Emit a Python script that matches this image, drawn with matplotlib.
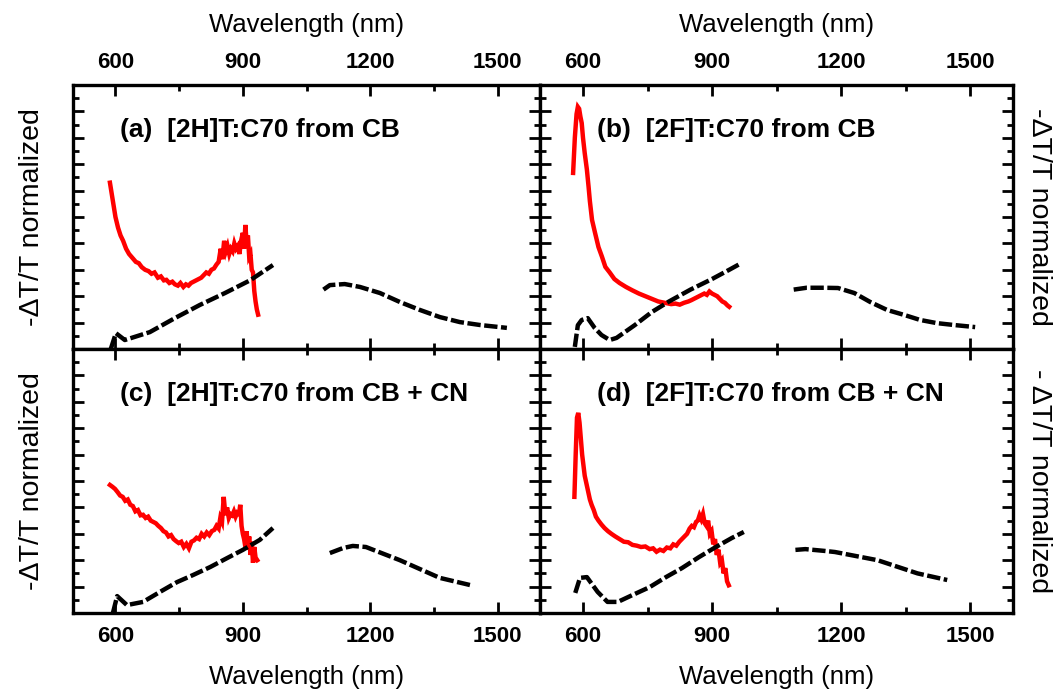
import matplotlib
matplotlib.use("Agg")
import matplotlib.pyplot as plt
from matplotlib.ticker import MultipleLocator

plt.rcParams['font.family'] = ['Liberation Sans', 'DejaVu Sans']

# ---- panel (a) [2H]T:C70 from CB
a_red_wl = [587, 590, 595, 600, 606, 612, 618, 625, 632, 640, 648, 655, 662, 670, 678, 685, 692, 700, 707,
            714, 720, 727, 734, 740, 747, 753, 760, 766, 772, 778, 784, 790, 796, 802, 808, 814, 820, 826,
            832, 838, 843, 848, 852, 856, 860, 864, 868, 872, 876, 880, 884, 888, 892, 896, 900, 903, 906,
            909, 912, 915, 918, 921, 924, 927, 930, 933, 936]
a_red_y = [0.63, 0.60, 0.55, 0.50, 0.46, 0.43, 0.41, 0.38, 0.36, 0.345, 0.33, 0.325, 0.31, 0.30, 0.295,
           0.285, 0.29, 0.27, 0.275, 0.26, 0.262, 0.25, 0.255, 0.245, 0.24, 0.25, 0.235, 0.245, 0.24, 0.25,
           0.255, 0.26, 0.265, 0.27, 0.28, 0.29, 0.285, 0.30, 0.305, 0.32, 0.33, 0.38, 0.34, 0.41, 0.37,
           0.39, 0.36, 0.38, 0.37, 0.40, 0.38, 0.39, 0.36, 0.41, 0.44, 0.38, 0.47, 0.40, 0.43, 0.35, 0.36,
           0.30, 0.29, 0.22, 0.18, 0.15, 0.13]
a_vis_wl = [589, 601, 622, 681, 740, 799, 858, 917, 971]
a_vis_y = [0.0, 0.06, 0.034, 0.064, 0.117, 0.167, 0.212, 0.26, 0.318]
a_nir_wl = [1090, 1105, 1140, 1176, 1223, 1270, 1317, 1364, 1411, 1458, 1522]
a_nir_y = [0.225, 0.242, 0.246, 0.235, 0.212, 0.178, 0.148, 0.121, 0.102, 0.091, 0.08]

# ---- panel (b) [2F]T:C70 from CB
b_red_wl = [577, 581, 585, 588, 591, 594, 597, 600, 604, 609, 613, 616, 621, 628, 636, 644, 652, 662, 673,
            685, 700, 715, 730, 745, 760, 775, 790, 805, 815, 825, 835, 845, 852, 858, 864, 870, 876, 882,
            888, 894, 900, 906, 912, 918, 924, 930, 936, 940]
b_red_y = [0.667, 0.80, 0.89, 0.917, 0.91, 0.88, 0.856, 0.80, 0.742, 0.68, 0.614, 0.56, 0.489, 0.44, 0.386,
           0.35, 0.311, 0.29, 0.265, 0.25, 0.235, 0.222, 0.21, 0.2, 0.19, 0.18, 0.175, 0.17, 0.172, 0.168,
           0.175, 0.18, 0.185, 0.19, 0.195, 0.2, 0.205, 0.21, 0.205, 0.218, 0.21, 0.205, 0.2, 0.19, 0.18,
           0.175, 0.165, 0.16]
b_vis_wl = [581, 588, 597, 611, 627, 643, 662, 678, 720, 760, 800, 850, 900, 940, 969]
b_vis_y = [0.008, 0.09, 0.11, 0.117, 0.08, 0.053, 0.034, 0.042, 0.09, 0.14, 0.18, 0.225, 0.265, 0.3, 0.326]
b_nir_wl = [1090, 1120, 1160, 1193, 1231, 1268, 1307, 1347, 1384, 1423, 1462, 1512]
b_nir_y = [0.225, 0.232, 0.232, 0.231, 0.212, 0.178, 0.148, 0.129, 0.11, 0.098, 0.091, 0.083]

# ---- panel (c) [2H]T:C70 from CB + CN
c_red_wl = [587, 593, 599, 605, 611, 617, 623, 629, 635, 641, 647, 653, 659, 665, 671, 677, 683, 689, 695,
            701, 707, 713, 719, 725, 731, 737, 743, 749, 755, 761, 767, 773, 779, 785, 791, 797, 803, 809,
            815, 821, 827, 833, 838, 843, 847, 851, 855, 859, 863, 867, 871, 875, 879, 883, 887, 891, 894,
            897, 900, 903, 906, 909, 912, 915, 918, 921, 924, 927, 930, 934]
c_red_y = [0.485, 0.478, 0.47, 0.458, 0.445, 0.44, 0.425, 0.43, 0.41, 0.405, 0.385, 0.39, 0.37, 0.372, 0.36,
           0.365, 0.35, 0.345, 0.34, 0.33, 0.322, 0.31, 0.305, 0.29, 0.295, 0.28, 0.272, 0.265, 0.27, 0.25,
           0.262, 0.245, 0.27, 0.275, 0.285, 0.28, 0.3, 0.29, 0.305, 0.295, 0.31, 0.315, 0.33, 0.32, 0.36,
           0.345, 0.44, 0.37, 0.40, 0.36, 0.375, 0.37, 0.385, 0.365, 0.38, 0.375, 0.41, 0.33, 0.30, 0.28,
           0.25, 0.31, 0.24, 0.29, 0.22, 0.27, 0.19, 0.25, 0.21, 0.20]
c_vis_wl = [594, 604, 627, 665, 705, 745, 783, 823, 863, 900, 940, 971]
c_vis_y = [0.0, 0.064, 0.03, 0.042, 0.08, 0.117, 0.144, 0.174, 0.208, 0.239, 0.277, 0.322]
c_nir_wl = [1105, 1136, 1159, 1190, 1270, 1364, 1435]
c_nir_y = [0.227, 0.246, 0.254, 0.25, 0.2, 0.133, 0.106]

# ---- panel (d) [2F]T:C70 from CB + CN
d_red_wl = [580, 583, 586, 589, 592, 595, 598, 601, 604, 608, 612, 616, 620, 625, 630, 636, 643, 650, 658,
            666, 675, 685, 695, 705, 715, 725, 735, 745, 755, 763, 771, 779, 787, 795, 803, 810, 817, 824,
            830, 836, 842, 848, 853, 858, 863, 867, 871, 875, 879, 883, 887, 891, 895, 899, 903, 907, 911,
            915, 919, 923, 927, 931, 935, 939]
d_red_y = [0.44, 0.60, 0.74, 0.758, 0.72, 0.66, 0.60, 0.56, 0.52, 0.49, 0.46, 0.43, 0.41, 0.39, 0.365, 0.35,
           0.335, 0.322, 0.31, 0.30, 0.29, 0.28, 0.27, 0.268, 0.258, 0.255, 0.25, 0.252, 0.242, 0.245, 0.232,
           0.24, 0.235, 0.248, 0.245, 0.26, 0.255, 0.27, 0.28, 0.29, 0.30, 0.32, 0.33, 0.325, 0.345, 0.35,
           0.37, 0.355, 0.375, 0.34, 0.33, 0.35, 0.30, 0.31, 0.26, 0.28, 0.22, 0.24, 0.19, 0.20, 0.15, 0.17,
           0.12, 0.105]
d_vis_wl = [582, 593, 609, 634, 657, 681, 715, 755, 793, 830, 870, 909, 946, 974]
d_vis_y = [0.076, 0.133, 0.136, 0.08, 0.042, 0.042, 0.068, 0.098, 0.136, 0.17, 0.212, 0.25, 0.284, 0.307]
d_nir_wl = [1094, 1117, 1163, 1186, 1285, 1378, 1447]
d_nir_y = [0.239, 0.242, 0.235, 0.231, 0.2, 0.15, 0.125]

labels = ['(a)  [2H]T:C70 from CB', '(b)  [2F]T:C70 from CB',
          '(c)  [2H]T:C70 from CB + CN', '(d)  [2F]T:C70 from CB + CN']

panels = [
    (a_red_wl, a_red_y, a_vis_wl, a_vis_y, a_nir_wl, a_nir_y),
    (b_red_wl, b_red_y, b_vis_wl, b_vis_y, b_nir_wl, b_nir_y),
    (c_red_wl, c_red_y, c_vis_wl, c_vis_y, c_nir_wl, c_nir_y),
    (d_red_wl, d_red_y, d_vis_wl, d_vis_y, d_nir_wl, d_nir_y),
]

fig = plt.figure(figsize=(10.6, 6.92), dpi=100)

x0, xm, x1 = 73 / 1060, 540 / 1060, 1013 / 1060
y1, ym, y0 = 1 - 85 / 692, 1 - 349 / 692, 1 - 613 / 692
rects = [
    [x0, ym, xm - x0, y1 - ym],
    [xm, ym, x1 - xm, y1 - ym],
    [x0, y0, xm - x0, ym - y0],
    [xm, y0, x1 - xm, ym - y0],
]

for i, (rect, data, lab) in enumerate(zip(rects, panels, labels)):
    ax = fig.add_axes(rect)
    rwl, ry, vwl, vy, nwl, ny = data
    ax.plot(rwl, ry, color='red', lw=3.2, solid_joinstyle='miter')
    ax.plot(vwl, vy, color='black', lw=3.2, ls=(0, (3, 0.8)))
    ax.plot(nwl, ny, color='black', lw=3.2, ls=(0, (3, 0.8)))

    ax.set_xlim(500, 1600)
    ax.set_ylim(0, 1)
    ax.xaxis.set_major_locator(MultipleLocator(300))
    ax.xaxis.set_minor_locator(MultipleLocator(150))
    ax.yaxis.set_major_locator(MultipleLocator(0.1))
    ax.yaxis.set_minor_locator(MultipleLocator(0.05))
    top = i < 2
    ax.tick_params(which='both', direction='in', top=True, bottom=True, left=True, right=True,
                   labelleft=False, labelright=False, labeltop=top, labelbottom=not top,
                   width=2, labelsize=16, pad=9)
    ax.tick_params(which='major', length=8)
    ax.tick_params(which='minor', length=4.5)
    for t in ax.get_xticklabels():
        t.set_fontweight('bold')
    for s in ax.spines.values():
        s.set_linewidth(2.4)

    ax.text(0.10 if i % 2 == 0 else 0.12, 0.83, lab, transform=ax.transAxes,
            fontsize=19, fontweight='bold', va='center', ha='left')

    if top:
        ax.xaxis.set_label_position('top')
        ax.set_xlabel('Wavelength (nm)', fontsize=18.5, labelpad=14)
    else:
        ax.set_xlabel('Wavelength (nm)', fontsize=18.5, labelpad=13)

    if i == 0 or i == 2:
        ax.set_ylabel('-\u0394T/T normalized', fontsize=20.5, labelpad=20)
    elif i == 1:
        ax.yaxis.set_label_position('right')
        ax.set_ylabel('-\u0394T/T normalized', fontsize=20.5, rotation=270, labelpad=28)
    else:
        ax.yaxis.set_label_position('right')
        ax.set_ylabel('- \u0394T/T normalized', fontsize=20.5, rotation=270, labelpad=28)

fig.savefig('out.png', dpi=100)
